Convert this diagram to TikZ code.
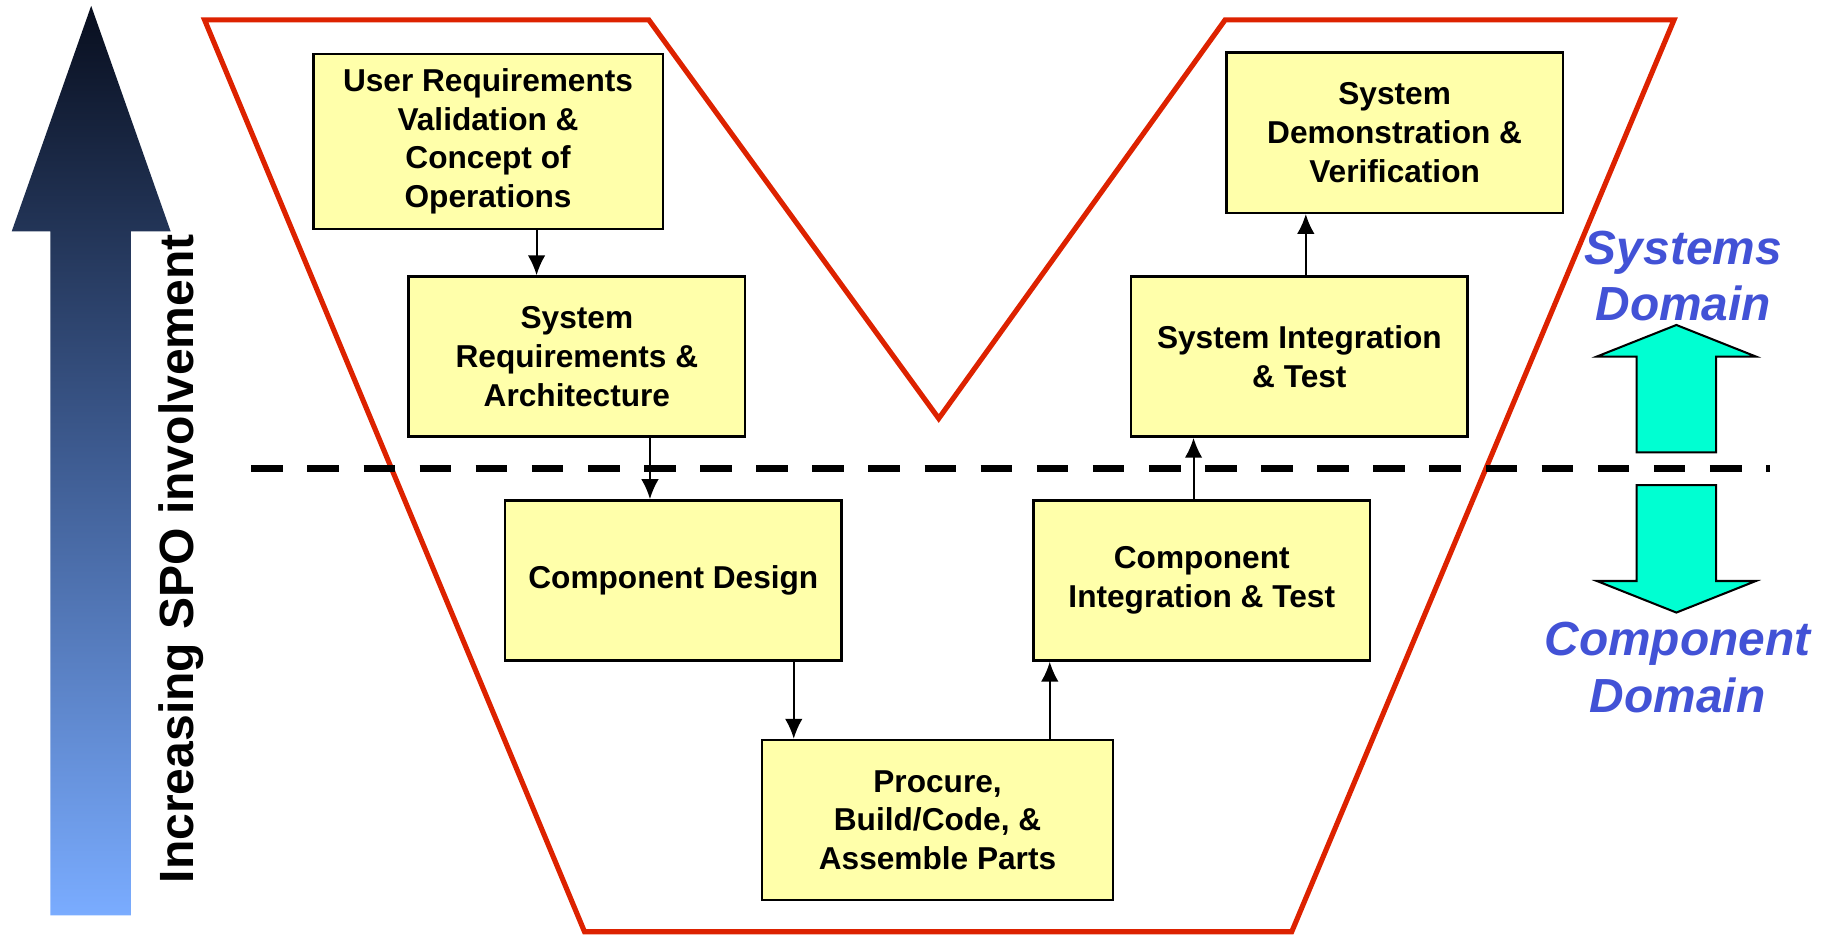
\documentclass[tikz,border=0pt]{standalone}
\usepackage{fontspec}
\setmainfont{Liberation Sans}
\usepackage{xcolor}
\usetikzlibrary{arrows.meta}

\definecolor{vred}{RGB}{221,34,0}
\definecolor{boxfill}{RGB}{255,255,170}
\definecolor{domblue}{RGB}{66,82,214}
\definecolor{aquafill}{RGB}{0,255,210}
\definecolor{navytop}{RGB}{8,14,30}
\definecolor{navymid}{RGB}{62,92,146}
\definecolor{skybot}{RGB}{122,172,255}

\begin{document}
\begin{tikzpicture}[x=0.02cm, y=-0.02cm,
        stage/.style={draw, line width=1.2pt, fill=boxfill, align=center, inner sep=2pt,
            minimum width=5.76cm, minimum height=2.74cm, font=\fontsize{15.4}{18.8}\selectfont\bfseries},
        flow/.style={-{Latex[length=3.4mm,width=3mm]}, line width=1pt},
        domlabel/.style={text=domblue, align=center, font=\fontsize{23.3}{27.3}\selectfont\bfseries\itshape},
        bigarrow/.style={draw, line width=1pt, fill=aquafill}]
    \useasboundingbox (0,0) rectangle (1568,800);
    \shade[top color=navytop, bottom color=skybot, middle color=navymid]
        (43,783) -- (43,198) -- (10,198) -- (78,5) -- (146,198) -- (112,198) -- (112,783) -- cycle;
    \node[rotate=90, font=\fontsize{23.4}{26}\selectfont\bfseries] (spo) at (155,478) {Increasing SPO involvement};
    \draw[vred, line width=2.5pt] (175,17) -- (555,17) -- (803,358) coordinate (vtip) -- (1048,17) -- (1432,17) -- (1105,797) -- (500,797) -- cycle;
    \draw[line width=3.4pt, dash pattern=on 5.4mm off 4.2mm] (215,401) coordinate (dl) -- (1514,401) coordinate (dr);

    \node[stage, minimum width=5.98cm, minimum height=3cm] (uvr) at (417.5,121) {User Requirements\\Validation \&\\Concept of\\Operations};
    \node[stage] (sra) at (493.5,305) {System\\Requirements \&\\Architecture};
    \node[stage] (cd) at (576,496.5) {Component Design};
    \node[stage, minimum width=6cm] (pbc) at (802,701.5) {Procure,\\Build/Code, \&\\Assemble Parts};
    \node[stage] (cit) at (1028,496.5) {Component\\Integration \& Test};
    \node[stage] (sit) at (1111.5,305) {System Integration\\\& Test};
    \node[stage] (sdv) at (1193,113.5) {System\\Demonstration \&\\Verification};

    \draw[flow] (uvr.south -| 459,0) -- (sra.north -| 459,0);
    \draw[flow] (sra.south -| 556,0) -- (cd.north -| 556,0);
    \draw[flow] (cd.south -| 679,0) -- (pbc.north -| 679,0);
    \draw[flow] (pbc.north -| 898,0) -- (cit.south -| 898,0);
    \draw[flow] (cit.north -| 1021,0) -- (sit.south -| 1021,0);
    \draw[flow] (sit.north -| 1117,0) -- (sdv.south -| 1117,0);

    \draw[bigarrow] (1400,387) -- (1400,305) -- (1366,305) -- (1434,278) -- (1502,305) -- (1468,305) -- (1468,387) -- cycle;
    \draw[bigarrow] (1400,415) -- (1400,497) -- (1366,497) -- (1434,524) -- (1502,497) -- (1468,497) -- (1468,415) -- cycle;
    \node[domlabel] (sysdom) at (1440,236) {Systems\\Domain};
    \node[domlabel] (compdom) at (1435,571) {Component\\Domain};
\end{tikzpicture}
\end{document}
